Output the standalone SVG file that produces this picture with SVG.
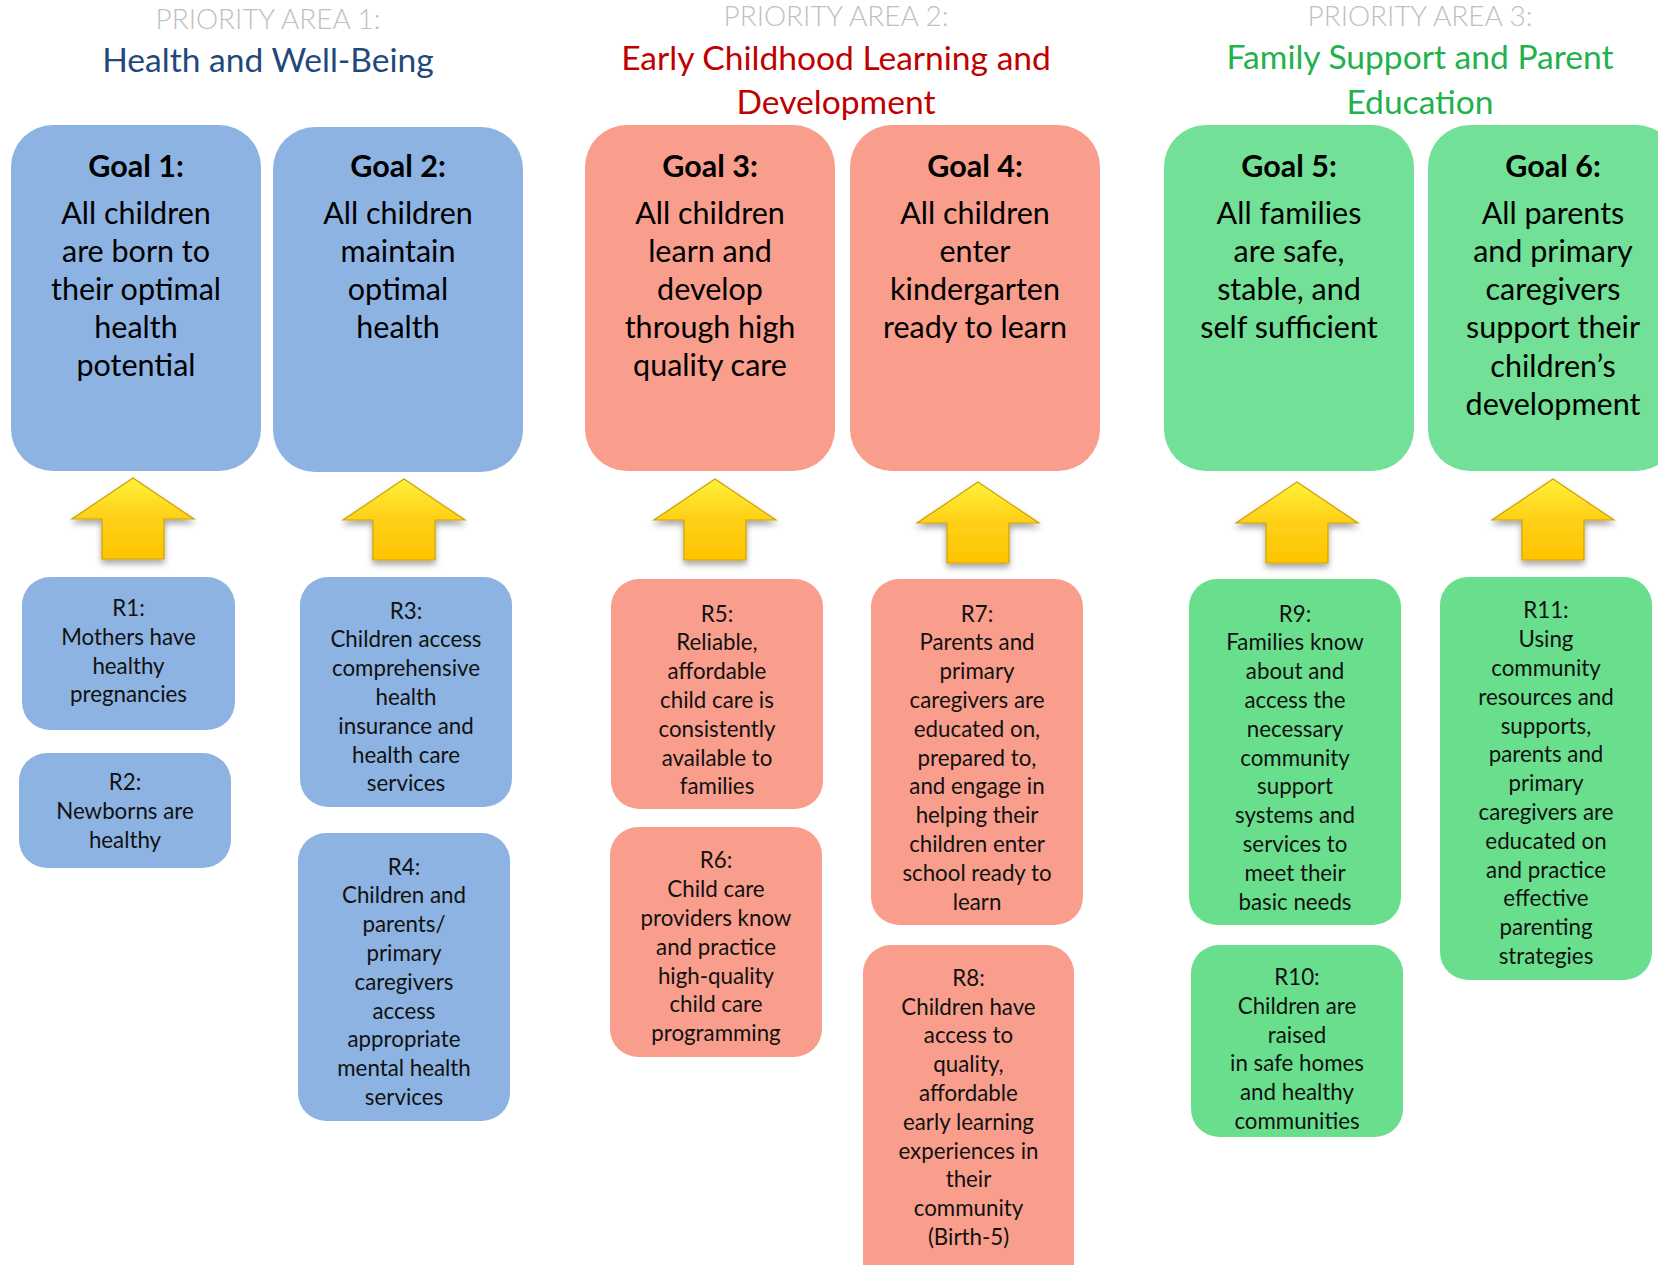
<svg xmlns="http://www.w3.org/2000/svg" width="1658" height="1265" viewBox="0 0 1658 1265">
<style>
text{font-family:Lato,"Open Sans","Liberation Sans",sans-serif;text-anchor:middle}
.pri{font-size:28px;font-weight:300;fill:#bfbfbf}
.t1{font-size:33.6px;fill:#1f497d}
.t2{font-size:33.6px;fill:#c00000}
.t3{font-size:33.6px;fill:#22b14c}
.gh{font-size:30.5px;font-weight:bold;fill:#000}
.gb{font-size:30.5px;fill:#000}
.r{font-size:22.3px;fill:#111}
.blue{fill:#8db3e2}
.red{fill:#f99d8c}
.green{fill:#72e096}
.greenr{fill:#69df8d}
.arrow{fill:url(#gold);stroke:#cfa000;stroke-width:1.2;filter:url(#sh)}
</style>
<defs>
<linearGradient id="gold" x1="0" y1="0" x2="0" y2="1">
<stop offset="0" stop-color="#fff23a"/>
<stop offset="0.45" stop-color="#ffd21a"/>
<stop offset="1" stop-color="#ffc400"/>
</linearGradient>
<filter id="sh" x="-20%" y="-20%" width="140%" height="150%">
<feDropShadow dx="0" dy="4" stdDeviation="3" flood-color="#000" flood-opacity="0.35"/>
</filter>
</defs>
<rect width="1658" height="1265" fill="#fff"/>

<g id="titles">
<text class="pri" x="268" y="29">PRIORITY AREA 1:</text>
<text class="t1" x="268" y="72">Health and Well-Being</text>
<text class="pri" x="836" y="26">PRIORITY AREA 2:</text>
<text class="t2" x="836" y="70">Early Childhood Learning and</text>
<text class="t2" x="836" y="114">Development</text>
<text class="pri" x="1420" y="26">PRIORITY AREA 3:</text>
<text class="t3" x="1420" y="69">Family Support and Parent</text>
<text class="t3" x="1420" y="114">Education</text>
</g>

<g id="goal1">
<rect class="blue" x="11" y="125" width="250" height="346" rx="42"/>
<text class="gh" x="136" y="177">Goal 1:</text>
<text class="gb" x="136"><tspan x="136" y="224">All children</tspan><tspan x="136" y="262">are born to</tspan><tspan x="136" y="300">their optimal</tspan><tspan x="136" y="338">health</tspan><tspan x="136" y="376">potential</tspan></text>
</g>
<g id="goal2">
<rect class="blue" x="273" y="127" width="250" height="345" rx="42"/>
<text class="gh" x="398" y="177">Goal 2:</text>
<text class="gb"><tspan x="398" y="224">All children</tspan><tspan x="398" y="262">maintain</tspan><tspan x="398" y="300">optimal</tspan><tspan x="398" y="338">health</tspan></text>
</g>
<g id="goal3">
<rect class="red" x="585" y="125" width="250" height="346" rx="42"/>
<text class="gh" x="710" y="177">Goal 3:</text>
<text class="gb"><tspan x="710" y="224">All children</tspan><tspan x="710" y="262">learn and</tspan><tspan x="710" y="300">develop</tspan><tspan x="710" y="338">through high</tspan><tspan x="710" y="376">quality care</tspan></text>
</g>
<g id="goal4">
<rect class="red" x="850" y="125" width="250" height="346" rx="42"/>
<text class="gh" x="975" y="177">Goal 4:</text>
<text class="gb"><tspan x="975" y="224">All children</tspan><tspan x="975" y="262">enter</tspan><tspan x="975" y="300">kindergarten</tspan><tspan x="975" y="338">ready to learn</tspan></text>
</g>
<g id="goal5">
<rect class="green" x="1164" y="125" width="250" height="346" rx="42"/>
<text class="gh" x="1289" y="177">Goal 5:</text>
<text class="gb"><tspan x="1289" y="224">All families</tspan><tspan x="1289" y="262">are safe,</tspan><tspan x="1289" y="300">stable, and</tspan><tspan x="1289" y="338">self sufficient</tspan></text>
</g>
<g id="goal6">
<rect class="green" x="1428" y="125" width="250" height="346" rx="42"/>
<text class="gh" x="1553" y="177">Goal 6:</text>
<text class="gb"><tspan x="1553" y="224">All parents</tspan><tspan x="1553" y="262">and primary</tspan><tspan x="1553" y="300">caregivers</tspan><tspan x="1553" y="338">support their</tspan><tspan x="1553" y="377">children’s</tspan><tspan x="1553" y="415">development</tspan></text>
</g>

<g id="connectors">
<path class="arrow" d="M133,478 L194,519 L164,519 L164,559 L102,559 L102,519 L72,519 Z"/>
<path class="arrow" d="M404,479 L465,520 L435,520 L435,560 L373,560 L373,520 L343,520 Z"/>
<path class="arrow" d="M715,479 L776,520 L746,520 L746,560 L684,560 L684,520 L654,520 Z"/>
<path class="arrow" d="M978,482 L1039,523 L1009,523 L1009,563 L947,563 L947,523 L917,523 Z"/>
<path class="arrow" d="M1297,482 L1358,523 L1328,523 L1328,563 L1266,563 L1266,523 L1236,523 Z"/>
<path class="arrow" d="M1553,479 L1614,520 L1584,520 L1584,560 L1522,560 L1522,520 L1492,520 Z"/>
</g>

<g id="r1">
<rect class="blue" x="22" y="577" width="213" height="153" rx="28"/>
<text class="r"><tspan x="128.5" y="616">R1:</tspan><tspan x="128.5" y="644.8">Mothers have</tspan><tspan x="128.5" y="673.6">healthy</tspan><tspan x="128.5" y="702.4">pregnancies</tspan></text>
</g>
<g id="r2">
<rect class="blue" x="19" y="753" width="212" height="115" rx="28"/>
<text class="r"><tspan x="125" y="790">R2:</tspan><tspan x="125" y="818.8">Newborns are</tspan><tspan x="125" y="847.6">healthy</tspan></text>
</g>
<g id="r3">
<rect class="blue" x="300" y="577" width="212" height="230" rx="28"/>
<text class="r"><tspan x="406" y="618.5">R3:</tspan><tspan x="406" y="647.3">Children access</tspan><tspan x="406" y="676.1">comprehensive</tspan><tspan x="406" y="704.9">health</tspan><tspan x="406" y="733.7">insurance and</tspan><tspan x="406" y="762.5">health care</tspan><tspan x="406" y="791.3">services</tspan></text>
</g>
<g id="r4">
<rect class="blue" x="298" y="833" width="212" height="288" rx="28"/>
<text class="r"><tspan x="404" y="874.5">R4:</tspan><tspan x="404" y="903.3">Children and</tspan><tspan x="404" y="932.1">parents/</tspan><tspan x="404" y="960.9">primary</tspan><tspan x="404" y="989.7">caregivers</tspan><tspan x="404" y="1018.5">access</tspan><tspan x="404" y="1047.3">appropriate</tspan><tspan x="404" y="1076.1">mental health</tspan><tspan x="404" y="1104.9">services</tspan></text>
</g>
<g id="r5">
<rect class="red" x="611" y="579" width="212" height="230" rx="28"/>
<text class="r"><tspan x="717" y="621.5">R5:</tspan><tspan x="717" y="650.3">Reliable,</tspan><tspan x="717" y="679.1">affordable</tspan><tspan x="717" y="707.9">child care is</tspan><tspan x="717" y="736.7">consistently</tspan><tspan x="717" y="765.5">available to</tspan><tspan x="717" y="794.3">families</tspan></text>
</g>
<g id="r6">
<rect class="red" x="610" y="827" width="212" height="230" rx="28"/>
<text class="r"><tspan x="716" y="868.3">R6:</tspan><tspan x="716" y="897.1">Child care</tspan><tspan x="716" y="925.9">providers know</tspan><tspan x="716" y="954.7">and practice</tspan><tspan x="716" y="983.5">high-quality</tspan><tspan x="716" y="1012.3">child care</tspan><tspan x="716" y="1041.1">programming</tspan></text>
</g>
<g id="r7">
<rect class="red" x="871" y="579" width="212" height="346" rx="28"/>
<text class="r"><tspan x="977" y="621.5">R7:</tspan><tspan x="977" y="650.3">Parents and</tspan><tspan x="977" y="679.1">primary</tspan><tspan x="977" y="707.9">caregivers are</tspan><tspan x="977" y="736.7">educated on,</tspan><tspan x="977" y="765.5">prepared to,</tspan><tspan x="977" y="794.3">and engage in</tspan><tspan x="977" y="823.1">helping their</tspan><tspan x="977" y="851.9">children enter</tspan><tspan x="977" y="880.7">school ready to</tspan><tspan x="977" y="909.5">learn</tspan></text>
</g>
<g id="r8">
<rect class="red" x="863" y="945" width="211" height="345" rx="28"/>
<text class="r"><tspan x="968.5" y="985.7">R8:</tspan><tspan x="968.5" y="1014.5">Children have</tspan><tspan x="968.5" y="1043.3">access to</tspan><tspan x="968.5" y="1072.1">quality,</tspan><tspan x="968.5" y="1100.9">affordable</tspan><tspan x="968.5" y="1129.7">early learning</tspan><tspan x="968.5" y="1158.5">experiences in</tspan><tspan x="968.5" y="1187.3">their</tspan><tspan x="968.5" y="1216.1">community</tspan><tspan x="968.5" y="1244.9">(Birth-5)</tspan></text>
</g>
<g id="r9">
<rect class="greenr" x="1189" y="579" width="212" height="346" rx="28"/>
<text class="r"><tspan x="1295" y="621.5">R9:</tspan><tspan x="1295" y="650.3">Families know</tspan><tspan x="1295" y="679.1">about and</tspan><tspan x="1295" y="707.9">access the</tspan><tspan x="1295" y="736.7">necessary</tspan><tspan x="1295" y="765.5">community</tspan><tspan x="1295" y="794.3">support</tspan><tspan x="1295" y="823.1">systems and</tspan><tspan x="1295" y="851.9">services to</tspan><tspan x="1295" y="880.7">meet their</tspan><tspan x="1295" y="909.5">basic needs</tspan></text>
</g>
<g id="r10">
<rect class="greenr" x="1191" y="945" width="212" height="192" rx="28"/>
<text class="r"><tspan x="1297" y="985">R10:</tspan><tspan x="1297" y="1013.8">Children are</tspan><tspan x="1297" y="1042.6">raised</tspan><tspan x="1297" y="1071.4">in safe homes</tspan><tspan x="1297" y="1100.2">and healthy</tspan><tspan x="1297" y="1129">communities</tspan></text>
</g>
<g id="r11">
<rect class="greenr" x="1440" y="577" width="212" height="403" rx="28"/>
<text class="r"><tspan x="1546" y="618.3">R11:</tspan><tspan x="1546" y="647.1">Using</tspan><tspan x="1546" y="675.9">community</tspan><tspan x="1546" y="704.7">resources and</tspan><tspan x="1546" y="733.5">supports,</tspan><tspan x="1546" y="762.3">parents and</tspan><tspan x="1546" y="791.1">primary</tspan><tspan x="1546" y="819.9">caregivers are</tspan><tspan x="1546" y="848.7">educated on</tspan><tspan x="1546" y="877.5">and practice</tspan><tspan x="1546" y="906.3">effective</tspan><tspan x="1546" y="935.1">parenting</tspan><tspan x="1546" y="963.9">strategies</tspan></text>
</g>
</svg>
